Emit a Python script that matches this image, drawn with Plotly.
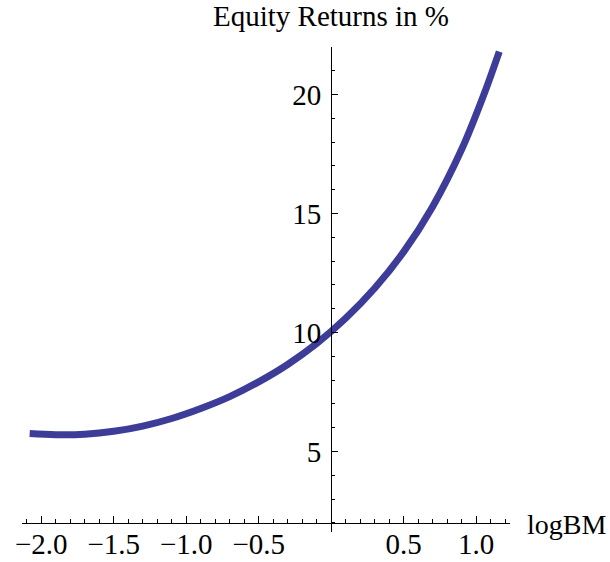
import plotly.graph_objects as go

# Data
log_bm = [-2.08, -1.9, -1.7, -1.5, -1.3, -1.1, -0.9, -0.7, -0.5, -0.3, -0.1,
          0.1, 0.3, 0.5, 0.7, 0.9, 1.05, 1.16]
equity_returns = [5.76, 5.71, 5.73, 5.85, 6.07, 6.39, 6.81, 7.31, 7.93, 8.66, 9.54,
                  10.60, 11.86, 13.39, 15.29, 17.69, 19.94, 21.81]

x_tick_vals = [-2.0, -1.5, -1.0, -0.5, 0.5, 1.0]
x_tick_text = ["\u22122.0", "\u22121.5", "\u22121.0", "\u22120.5", "0.5", "1.0"]
y_tick_vals = [5, 10, 15, 20]
y_tick_text = ["5", "10", "15", "20"]

x_range = [-2.133, 1.234]
y_range = [1.62, 22.0]
x_axis_at_y = 2.0
y_axis_at_x = 0.0

font_family = "Liberation Serif"
font_size = 29
curve_color = "rgb(61,61,153)"

fig = go.Figure()
fig.add_trace(go.Scatter(
    x=log_bm, y=equity_returns, mode="lines",
    line=dict(color=curve_color, width=7, shape="spline", smoothing=1.0),
    hoverinfo="skip", showlegend=False,
))

x_pos = (x_axis_at_y - y_range[0]) / (y_range[1] - y_range[0])
y_pos = (y_axis_at_x - x_range[0]) / (x_range[1] - x_range[0])

fig.update_layout(
    width=610, height=562,
    margin=dict(l=22, r=100, t=47, b=30),
    paper_bgcolor="white", plot_bgcolor="white",
    font=dict(family=font_family, size=font_size, color="black"),
    xaxis=dict(
        range=x_range, anchor="free", position=x_pos, automargin=False,
        showgrid=False, zeroline=False,
        showline=True, linecolor="black", linewidth=1.2,
        ticks="inside", ticklen=7, tickwidth=1, tickcolor="black",
        tickvals=x_tick_vals, ticktext=x_tick_text,
        tickfont=dict(family=font_family, size=font_size, color="black"),
        ticklabelstandoff=-5,
        minor=dict(dtick=0.1, tick0=0, ticks="inside", ticklen=4,
                   tickwidth=1, tickcolor="black", showgrid=False),
    ),
    yaxis=dict(
        range=y_range, anchor="free", position=y_pos, automargin=False,
        showgrid=False, zeroline=False,
        showline=True, linecolor="black", linewidth=1.2,
        ticks="inside", ticklen=6, tickwidth=1, tickcolor="black",
        tickvals=y_tick_vals, ticktext=y_tick_text,
        tickfont=dict(family=font_family, size=font_size, color="black"),
        ticklabelstandoff=4,
        minor=dict(dtick=1, tick0=0, ticks="inside", ticklen=3,
                   tickwidth=1, tickcolor="black", showgrid=False),
    ),
    annotations=[
        dict(text="Equity Returns in %", x=y_pos, xref="paper", y=1, yref="paper",
             xanchor="center", yanchor="middle", yshift=31, showarrow=False,
             font=dict(family=font_family, size=font_size, color="black")),
        dict(text="logBM", x=1, xref="paper", y=x_pos, yref="paper",
             xanchor="left", yanchor="middle", xshift=15, yshift=-2, showarrow=False,
             font=dict(family=font_family, size=font_size - 1, color="black")),
    ],
)

# remove the default 8px body margin so the figure fills the window exactly
fig.write_html("out.html",
               config={"displayModeBar": False},
               post_script="document.body.style.margin='0';document.body.style.padding='0';")
